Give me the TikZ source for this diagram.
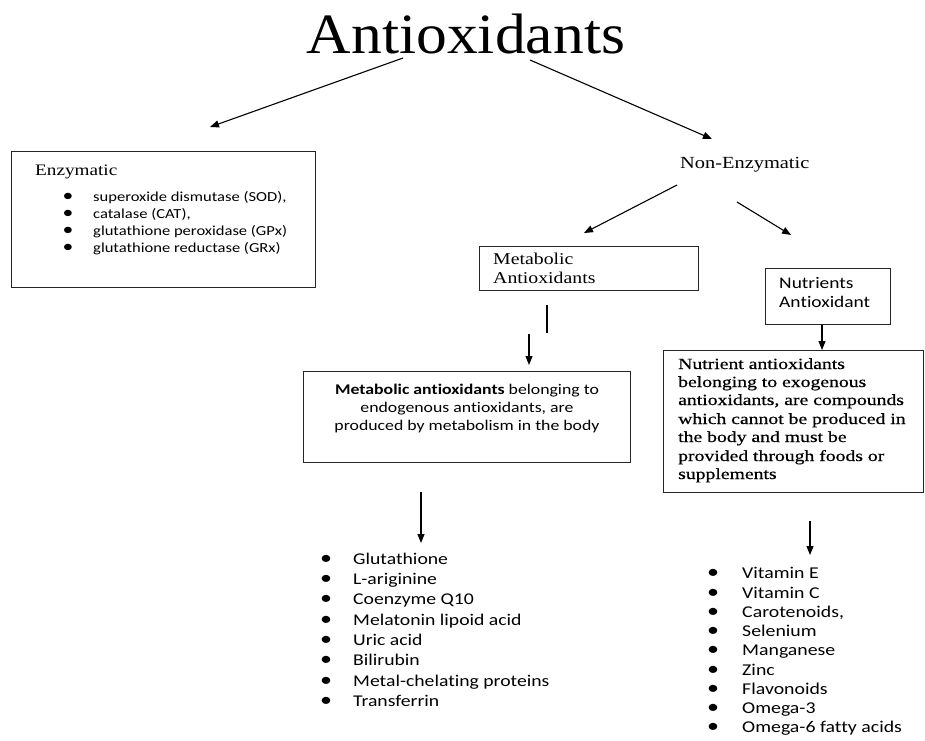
\documentclass[tikz,border=0pt]{standalone}
\usepackage{fontspec}
\usetikzlibrary{arrows.meta}
\newfontfamily\titlefont[FakeStretch=1.08]{Liberation Serif}
\newfontfamily\serifw[FakeStretch=1.2]{Liberation Serif}
\newfontfamily\nutfont[FakeStretch=1.27,FakeBold=0.6]{Liberation Serif}
\newfontfamily\sansw[FakeStretch=1.2,Ligatures=CommonOff]{Carlito}
\begin{document}
\begin{tikzpicture}[x=1pt,y=-1pt,
  box/.style={draw=black!85,line width=1.1pt,inner sep=0pt,anchor=north west},
  arr/.style={-{Triangle[length=9pt,width=7pt]},line width=1.1pt},
  plain/.style={line width=1.1pt},
  txt/.style={inner sep=0pt,anchor=base west},
  bul/.style={inner sep=0pt,anchor=base}]
\useasboundingbox (0,0) rectangle (925,740);

% title
\node[inner sep=0pt,anchor=base] (title) at (466,53) {\titlefont\fontsize{57}{60}\selectfont Antioxidants};

% enzymatic box
\node[box,minimum width=304pt,minimum height=136pt] (enz) at (11,151) {};
\node[txt] (enzt) at (35,175) {\serifw\fontsize{16}{18}\selectfont Enzymatic};
\foreach \t [count=\i] in {superoxide dismutase (SOD){,},catalase (CAT){,},glutathione peroxidase (GPx),glutathione reductase (GRx)}{
  \node[bul] (eb\i) at (68,{184+17*\i}) {\sansw\fontsize{18}{17}\selectfont •};
  \node[txt] (et\i) at (93,{184+17*\i}) {\sansw\fontsize{13.8}{17}\selectfont \t};
}

% non-enzymatic
\node[txt] (nonenz) at (680,168) {\serifw\fontsize{17}{19}\selectfont Non-Enzymatic};

% metabolic antioxidants box
\node[box,minimum width=219pt,minimum height=44pt] (metab) at (479,246) {};
\node[txt] (metab1) at (493,264) {\serifw\fontsize{16.5}{19}\selectfont Metabolic};
\node[txt] (metab2) at (493,283) {\serifw\fontsize{16.5}{19}\selectfont Antioxidants};

% nutrients antioxidant box
\node[box,minimum width=125pt,minimum height=56pt] (nutr) at (765,268) {};
\node[txt] (nutr1) at (779,288) {\sansw\fontsize{16.2}{19}\selectfont Nutrients};
\node[txt] (nutr2) at (779,307) {\sansw\fontsize{16.2}{19}\selectfont Antioxidant};

% metabolic description box
\node[box,minimum width=327pt,minimum height=91pt] (metdesc) at (303,371) {};
\node[inner sep=0pt,anchor=base] (md1) at (467,394) {\sansw\fontsize{14.8}{18}\selectfont \textbf{Metabolic antioxidants} belonging to};
\node[inner sep=0pt,anchor=base] (md2) at (467,412) {\sansw\fontsize{14.8}{18}\selectfont endogenous antioxidants, are};
\node[inner sep=0pt,anchor=base] (md3) at (467,430) {\sansw\fontsize{14.8}{18}\selectfont produced by metabolism in the body};

% nutrient description box
\node[box,minimum width=260pt,minimum height=142pt] (nutdesc) at (663,350) {};
\foreach \t/\y [count=\i] in {Nutrient antioxidants/369,belonging to exogenous/387,{antioxidants, are compounds}/405,which cannot be produced in/424,the body and must be/442,provided through foods or/461,supplements/479}{
  \node[txt] (nd\i) at (678,\y) {\nutfont\fontsize{15.5}{18.4}\selectfont \t};
}

% metabolic list
\foreach \t [count=\i] in {Glutathione,L-ariginine,Coenzyme Q10,Melatonin lipoid acid,Uric acid,Bilirubin,Metal-chelating proteins,Transferrin}{
  \node[bul] (mb\i) at (326,{544+20.3*\i}) {\sansw\fontsize{20}{20}\selectfont •};
  \node[txt] (ml\i) at (353,{544+20.3*\i}) {\sansw\fontsize{16.4}{20}\selectfont \t};
}

% nutrient list
\foreach \t [count=\i] in {Vitamin E,Vitamin C,{Carotenoids,},Selenium,Manganese,Zinc,Flavonoids,Omega-3,Omega-6 fatty acids}{
  \node[bul] (nb\i) at (713,{559.5+19.25*\i}) {\sansw\fontsize{20}{20}\selectfont •};
  \node[txt] (nl\i) at (742,{559.5+19.25*\i}) {\sansw\fontsize{16.5}{20}\selectfont \t};
}

% connectors
\coordinate (t1) at (403,58);
\coordinate (t1e) at (210,127);
\coordinate (t2) at (530,60);
\coordinate (t2e) at (712,139);
\draw[arr] (t1) -- (t1e);
\draw[arr] (t2) -- (t2e);

\coordinate (n1) at (677,185);
\coordinate (n1e) at (584,233);
\coordinate (n2) at (737,202);
\coordinate (n2e) at (791,235);
\draw[arr] (n1) -- (n1e);
\draw[arr] (n2) -- (n2e);

\coordinate (ms1) at (547,305);
\coordinate (ms2) at (547,333);
\draw[plain] (ms1) -- (ms2);
\coordinate (ma1) at (529,334);
\draw[arr] (ma1) -- (529,365);

\draw[arr] (nutr.south -| 822,0) -- (nutdesc.north -| 822,0);

\coordinate (ml0) at (421,492);
\coordinate (ml0e) at (421,543);
\draw[arr] (ml0) -- (ml0e);

\coordinate (nl0) at (810,521);
\coordinate (nl0e) at (810,555);
\draw[arr] (nl0) -- (nl0e);
\end{tikzpicture}
\end{document}
